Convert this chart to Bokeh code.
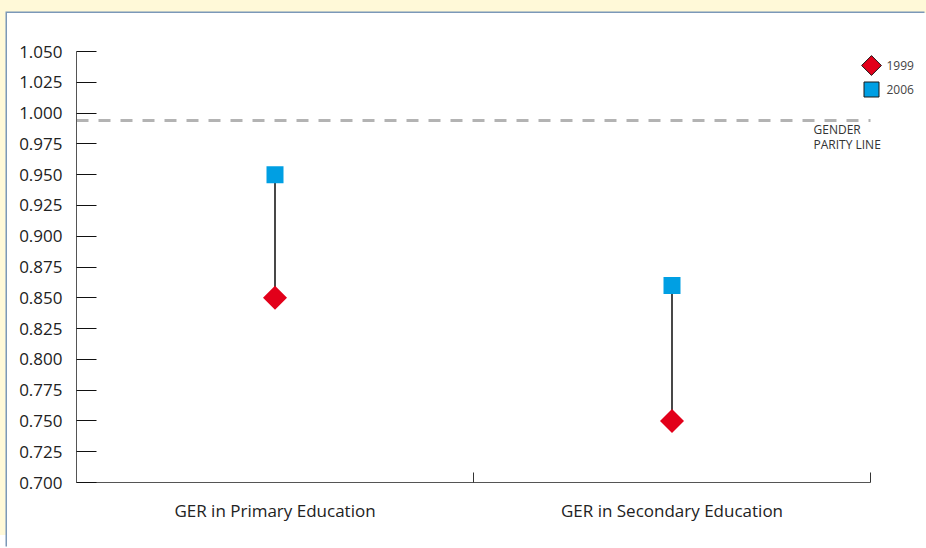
import math
from bokeh.plotting import figure
from bokeh.models import Range1d, FixedTicker, Label, ColumnDataSource
from bokeh.embed import file_html
from bokeh.resources import INLINE

# ---- data ----
categories = ["GER in Primary Education", "GER in Secondary Education"]
gpi_1999 = [0.850, 0.750]
gpi_2006 = [0.950, 0.860]
parity_line = 0.994
y_ticks = [0.700, 0.725, 0.750, 0.775, 0.800, 0.825, 0.850, 0.875,
           0.900, 0.925, 0.950, 0.975, 1.000, 1.025, 1.050]
series_labels = ["1999", "2006"]

# ---- layout / style ----
WIN_W, WIN_H = 926, 548
OFF_X, OFF_Y = 7, 13                  # white panel offset inside the yellow page band
W, H = WIN_W - OFF_X, WIN_H - OFF_Y
AX_LEFT, AX_TOP, AX_RIGHT, AX_BOTTOM = 76, 51, 870, 482   # window pixels of the axes
KEY_X, KEY_Y = 871, [65, 89]                               # legend key centres (window px)
FONT = "Open Sans"
RED = "#e2001a"
BLUE = "#009fe3"

n = len(categories)
y0, y1 = y_ticks[0], y_ticks[-1]
px_x = (AX_RIGHT - AX_LEFT) / n
px_y = (AX_BOTTOM - AX_TOP) / (y1 - y0)
x_end = (WIN_W - AX_LEFT) / px_x
y_end = y0 + (AX_BOTTOM - OFF_Y) / px_y

xpos = [i + 0.5 for i in range(n)]
src = ColumnDataSource(dict(x=xpos, y99=gpi_1999, y06=gpi_2006))
par = ColumnDataSource(dict(x0=[0], x1=[n], y=[parity_line]))

p = figure(width=W, height=H, output_backend="svg", toolbar_location=None,
           x_range=Range1d(0, x_end), y_range=Range1d(y0, y_end),
           min_border_left=AX_LEFT - OFF_X, min_border_right=0, min_border_top=0,
           min_border_bottom=WIN_H - AX_BOTTOM)
p.outline_line_color = None
p.grid.visible = False
p.background_fill_color = "white"
p.border_fill_color = "white"
p.styles = {"position": "relative", "left": f"{OFF_X}px", "top": f"{OFF_Y}px",
            "box-shadow": "-1.5px -1.5px 0 0 #7b98b8, -7px -13px 0 0 #fff9d8, 0 -13px 0 0 #fff9d8"}

# y axis
ya = p.yaxis[0]
ya.bounds = (y0, y1)
ya.ticker = FixedTicker(ticks=y_ticks)
ya.major_label_overrides = {t: f"{t:.3f}" for t in y_ticks}
ya.major_tick_in = 20
ya.major_tick_out = 0
ya.minor_tick_in = 0
ya.minor_tick_out = 0
ya.major_tick_line_color = "#111111"
ya.axis_line_color = "#555555"
ya.major_label_text_font = FONT
ya.major_label_text_font_size = "17px"
ya.major_label_text_color = "#222222"
ya.major_label_standoff = 14

# x axis
xa = p.xaxis[0]
xa.bounds = (0, n)
xa.ticker = FixedTicker(ticks=xpos, minor_ticks=list(range(1, n + 1)))
xa.major_label_overrides = {x: c for x, c in zip(xpos, categories)}
xa.major_tick_in = 0
xa.major_tick_out = 0
xa.minor_tick_in = 10
xa.minor_tick_out = 0
xa.minor_tick_line_color = "#333333"
xa.axis_line_color = "#555555"
xa.major_label_text_font = FONT
xa.major_label_text_font_size = "17px"
xa.major_label_text_color = "#222222"
xa.major_label_standoff = 16

# gender parity line
p.segment(x0="x0", x1="x1", y0="y", y1="y", source=par, line_color="#b3b3b3",
          line_width=3, line_dash="12 10")
p.add_layout(Label(x=n, y=parity_line, text="GENDER\nPARITY LINE",
                   x_offset=-57, y_offset=-1, text_baseline="top",
                   text_font=FONT, text_font_size="12px", text_color="#333333",
                   text_line_height=0.85))

# stems and markers
p.segment(x0="x", y0="y99", x1="x", y1="y06", source=src, line_color="#1a1a1a", line_width=1.6)
p.scatter("x", "y06", source=src, marker="square", size=17, fill_color=BLUE, line_color=None)
p.scatter("x", "y99", source=src, marker="square", angle=math.pi / 4, size=17,
          fill_color=RED, line_color=None)

# legend (keys placed at the top-right corner of the axes)
kx = (KEY_X - AX_LEFT) / px_x
ky = [y0 + (AX_BOTTOM - k) / px_y for k in KEY_Y]
p.scatter([kx], [ky[0]], marker="square", angle=math.pi / 4, size=14,
          fill_color=RED, line_color="#1a1a1a", line_width=1)
p.scatter([kx], [ky[1]], marker="square", size=15,
          fill_color=BLUE, line_color="#1a1a1a", line_width=1)
for lab, yy in zip(series_labels, ky):
    p.add_layout(Label(x=kx, y=yy, text=lab, x_offset=15, text_baseline="middle",
                       text_font=FONT, text_font_size="12px", text_color="#444444"))

open("out.html", "w").write(file_html(p, INLINE))
